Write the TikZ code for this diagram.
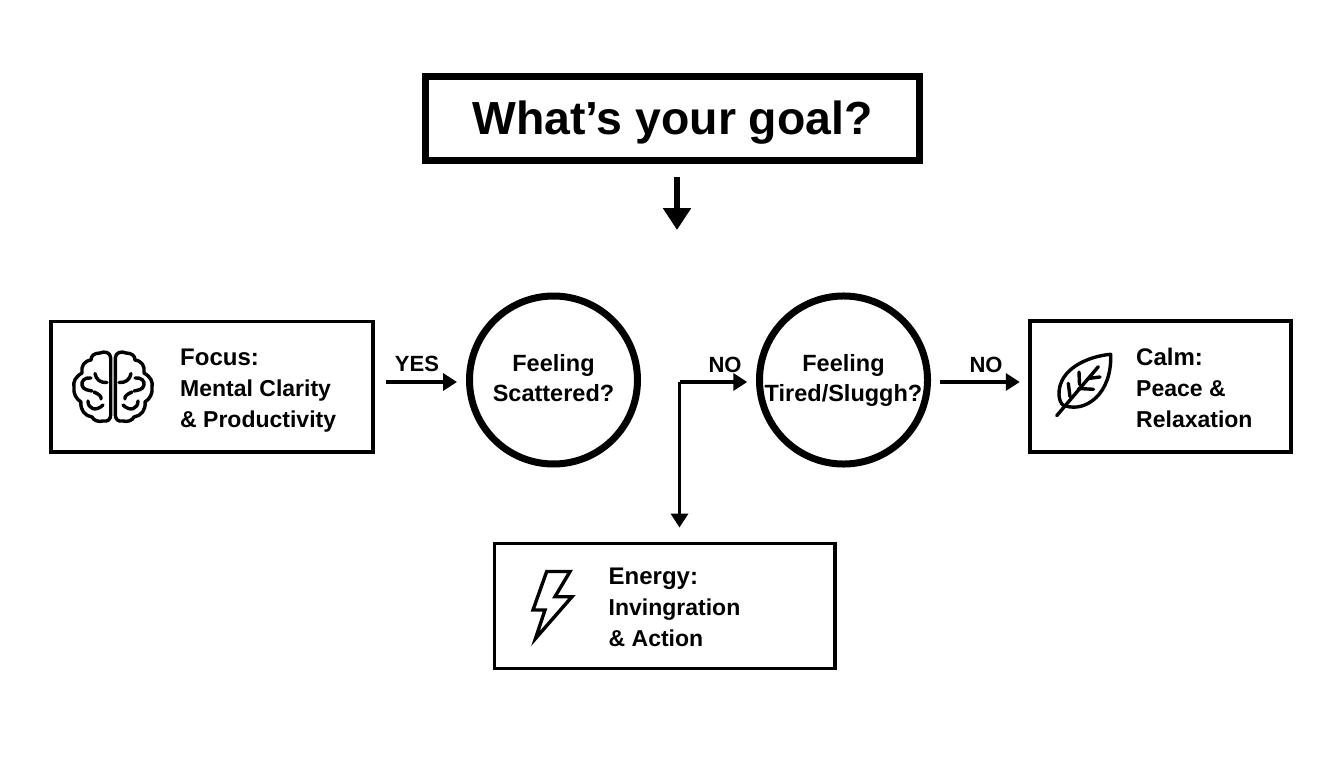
\documentclass[tikz,border=0pt]{standalone}
\usepackage{fontspec}
\setmainfont{Liberation Sans}
\usepackage{tikz}
\usetikzlibrary{positioning, arrows.meta}

\tikzset{
  goalbox/.style={draw, line width=7pt, minimum width=494pt, minimum height=84.5pt, inner sep=0pt, text height=33pt, text depth=0pt, font=\fontsize{46.4}{50}\selectfont\bfseries},
  resultbox/.style={draw, line width=3.5pt, inner sep=0pt},
  askcircle/.style={draw, circle, line width=7pt, minimum size=168pt, inner sep=0pt, align=center, font=\fontsize{23.5}{30}\selectfont\bfseries},
  boxtext/.style={anchor=west, inner sep=0pt, align=left, font=\fontsize{23}{31}\selectfont\bfseries},
  answer/.style={anchor=base, inner sep=0pt, font=\fontsize{22}{24}\selectfont\bfseries},
  flow/.style={line width=3.5pt, -{Triangle[length=14pt,width=17pt]}},
  bigflow/.style={line width=6pt, -{Triangle[length=22pt,width=27pt]}},
  icon/.style={line width=3.4pt, line cap=round, line join=round}
}

\newcommand{\brainhalf}{
  \draw[icon] (110.7,358) .. controls (110.7,352) and (104,351) .. (100,353)
    .. controls (94,353) and (91,356) .. (91,360)
    .. controls (84,361) and (81,366) .. (82,373)
    .. controls (75,377) and (73,382) .. (74,387)
    .. controls (73,393) and (76,399) .. (81,402)
    .. controls (80,410) and (85,416) .. (92,417)
    .. controls (94,421) and (99,422) .. (103,421)
    .. controls (108,422) and (110.7,419) .. (110.7,415) -- cycle;
  \draw[icon] (95,373.5) .. controls (96,380) and (101,383) .. (107,382.5);
  \draw[icon] (91,378) .. controls (85,377) and (81,381) .. (82,385) .. controls (83,390) and (88,390) .. (92,391);
  \draw[icon] (94,392) .. controls (99,394) and (102,397) .. (101,399);
  \draw[icon] (88,401) .. controls (88,409) and (96,412) .. (103,405);
}

\begin{document}
\begin{tikzpicture}[x=1pt,y=-1pt]
  \useasboundingbox (0,0) rectangle (1344,768);

  % Title
  \node[goalbox] (goal) at (672.5,118.3) {What’s your goal?};
  \coordinate (goalend) at (677,230);
  \draw[bigflow, shorten <=13pt] ([xshift=4.5pt]goal.south) -- (goalend);

  % Questions
  \node[askcircle] (scattered) at (553.5,380) {Feeling\strut\\Scattered?\strut};
  \node[askcircle] (tired) at (843.5,380) {Feeling\strut\\Tired/Sluggh?\strut};

  % Boxes
  \node[resultbox, minimum width=322pt, minimum height=130.5pt] (focus) at (212,386.7) {};
  \node[resultbox, minimum width=261pt, minimum height=131pt] (calm) at (1160.5,386.5) {};
  \node[resultbox, minimum width=340.5pt, minimum height=125pt] (energy) at (664.7,605.8) {};

  % Box texts
  \node[boxtext] (focustext) at (180,391) {{\fontsize{24}{31}\selectfont Focus:}\\Mental Clarity\\\& Productivity};
  \node[boxtext] (calmtext) at (1136,388) {{\fontsize{24}{31}\selectfont Calm:}\\Peace \&\\Relaxation};
  \node[boxtext] (energytext) at (608.5,607) {{\fontsize{24}{31}\selectfont Energy:}\\Invingration\\\& Action};

  % Connectors
  \draw[flow, shorten <=11pt, shorten >=9pt] ([yshift=4.7pt]focus.east) -- ([yshift=-2pt]scattered.west);
  \coordinate (elbow) at (679.5,382);
  \draw[flow, shorten >=8.7pt] (elbow) -- ([yshift=-2pt]tired.west);
  \draw[flow, shorten >=14pt] (elbow) -- (elbow |- energy.north);
  \draw[flow, shorten <=9pt, shorten >=8.5pt] ([yshift=-2pt]tired.east) -- ([yshift=4.5pt]calm.west);

  % Answers
  \node[answer] (yes) at (417,371) {YES};
  \node[answer] (noleft) at (725,372) {NO};
  \node[answer] (noright) at (986,372) {NO};

  % Brain icon
  \brainhalf
  \begin{scope}[xshift=226pt, xscale=-1]
    \brainhalf
  \end{scope}

  % Leaf icon
  \draw[icon] (1110.7,354.3) .. controls (1090,356) and (1058,368) .. (1059,395)
    .. controls (1060,404) and (1063,406) .. (1066,406)
    .. controls (1085,412) and (1112,395) .. cycle;
  \draw[icon] (1056.7,415.7) -- (1098.3,366.7);
  \draw[icon] (1079,372) -- (1079.5,384.5);
  \draw[icon] (1088,378.5) -- (1100,377);
  \draw[icon] (1078.5,388.5) -- (1093.5,389.3);
  \draw[icon] (1068.3,383.3) -- (1070,396.7);

  % Bolt icon
  \draw[icon, line join=miter] (546.7,571.5) -- (570,571.5) -- (555,596.7) -- (572,596.7) -- (535.5,638.5) -- (545,610) -- (533,610) -- cycle;
\end{tikzpicture}
\end{document}
